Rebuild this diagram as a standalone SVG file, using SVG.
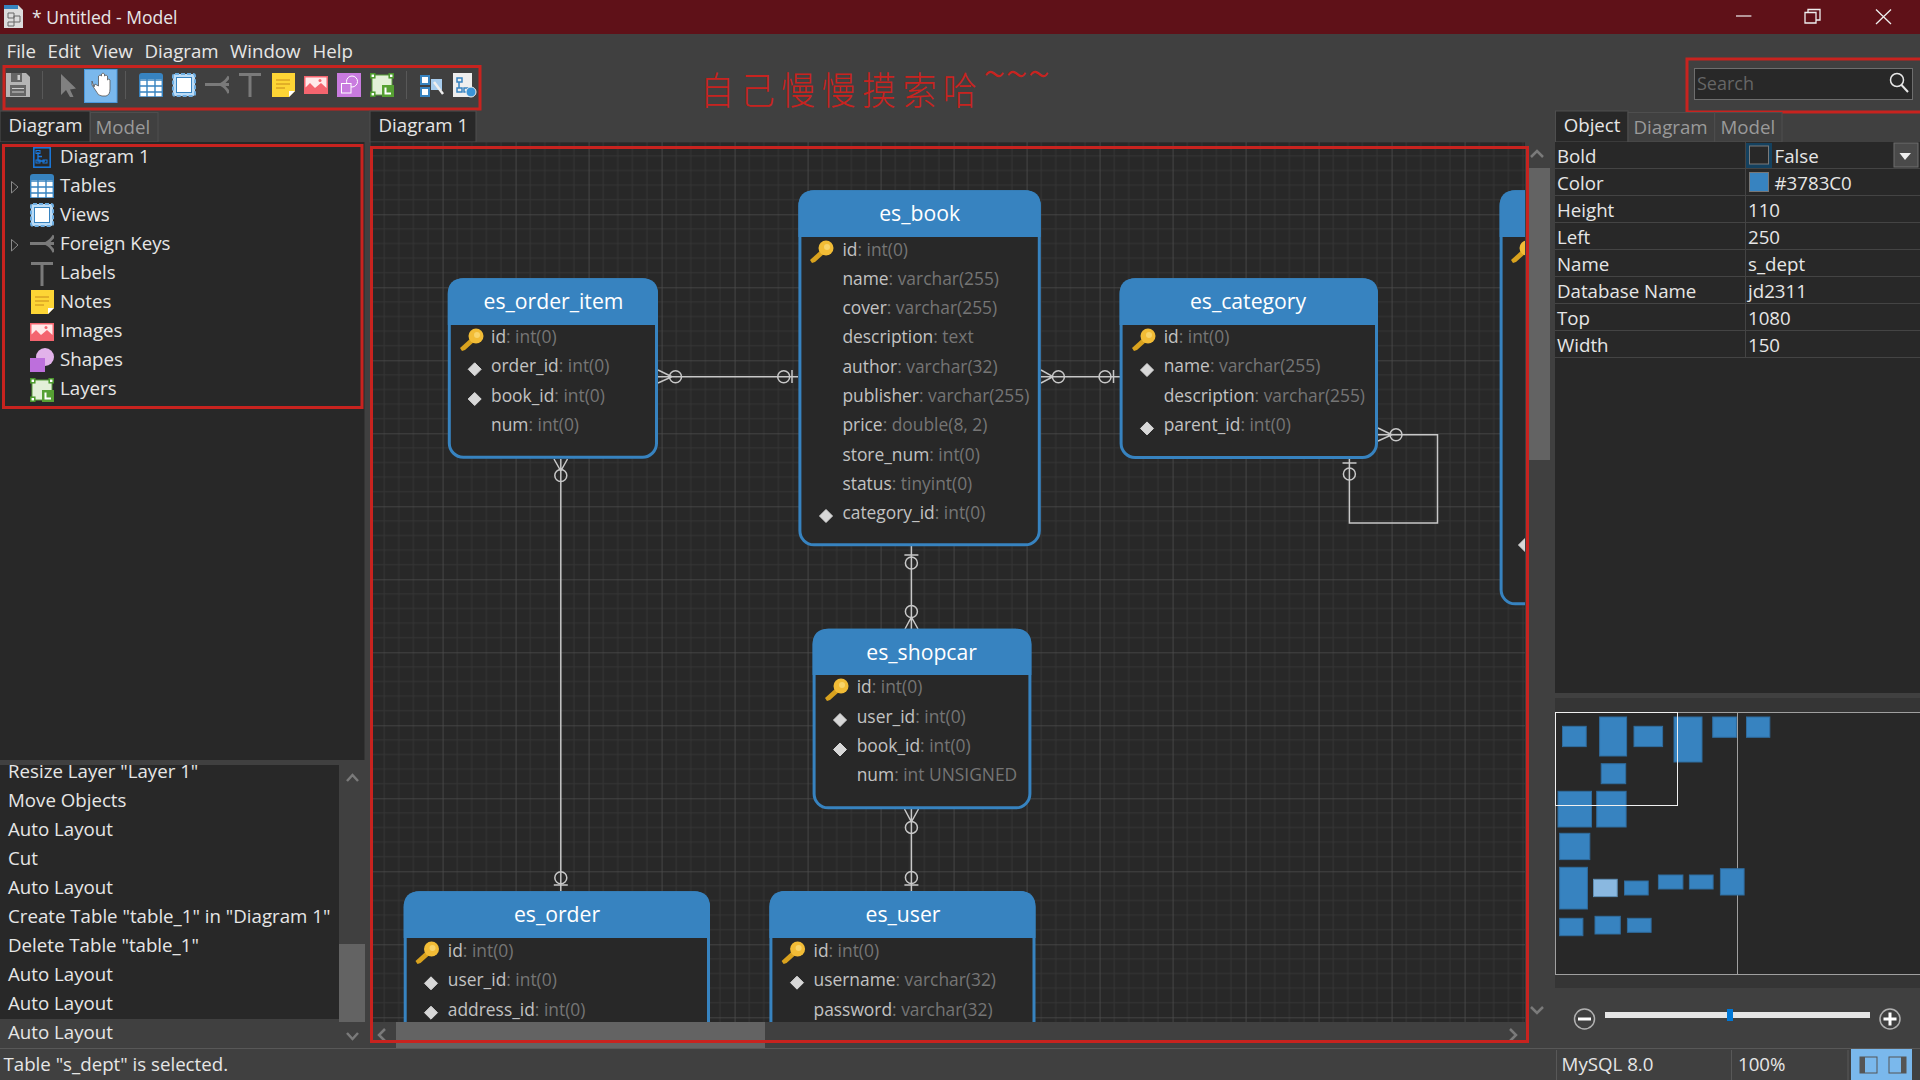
<svg xmlns="http://www.w3.org/2000/svg" width="1920" height="1080" viewBox="0 0 1920 1080">
<style>
text{font-family:"Open Sans","Noto Sans","Liberation Sans",sans-serif;font-size:18.7px;fill:#e6e6e6}
.dim{fill:#9a9a9a}
.red{fill:none;stroke:#c8231f;stroke-width:3}
.row{font-size:17.4px;fill:#c2c2c2}
.row tspan{fill:#757575}
.ttl{font-size:21.2px;font-weight:500;fill:#fff;text-anchor:middle}
.hdr{fill:#3783c0}
.bod{fill:#282828;stroke:#3783c0;stroke-width:3}
.cn{fill:none;stroke:#c8c8c8;stroke-width:1.5}
.cc{fill:none;stroke:#c8c8c8;stroke-width:1.5}
.sep{stroke:#585858;stroke-width:1}
.ln{stroke:#444;stroke-width:1}
.arw{fill:none;stroke:#7a7a7a;stroke-width:2.5}
.mm{fill:#3783c0;stroke:#2f6c9e;stroke-width:1}
.tab{fill:#282828;stroke:#4e4e4e;stroke-width:1}
.tab2{fill:#404040;stroke:#4e4e4e;stroke-width:1}
</style>
<defs>
<pattern id="grid" patternUnits="userSpaceOnUse" x="369.6" y="141.3" width="73" height="73">
<rect width="73" height="73" fill="#282828"/>
<path d="M14.6 0V73M29.2 0V73M43.8 0V73M58.4 0V73M0 14.6H73M0 29.2H73M0 43.8H73M0 58.4H73" stroke="#353535" stroke-width="1" fill="none"/>
<path d="M0 0V73M0 0H73" stroke="#4c4c4c" stroke-width="1.6" fill="none"/>
</pattern>
<clipPath id="cv"><rect x="370" y="142" width="1155" height="880"/></clipPath>
<symbol id="key" viewBox="0 0 24 24" overflow="visible">
<path d="M2 23L0 20L11 10L15 13L5 22Z" fill="#d9a21e"/><circle cx="16" cy="8" r="7.5" fill="#f2bc36"/><circle cx="17" cy="7" r="3" fill="#f9d469"/>
</symbol>
<symbol id="i-table" viewBox="0 0 24 24">
<path d="M0 7V3Q0 0 3 0H21Q24 0 24 3V7Z" fill="#3783c0"/><rect y="6" width="24" height="18" fill="#fff"/>
<path d="M0 7H24M0 13H24M0 19H24M0 24H24M.7 6V24M8 6V24M16 6V24M23.3 6V24" stroke="#3783c0" stroke-width="1.4"/>
</symbol>
<symbol id="i-view" viewBox="0 0 24 24">
<rect x="1" y="1" width="22" height="22" rx="2" fill="#bcdcf6" stroke="#6eaee2" stroke-width="2" stroke-dasharray="4 2"/><rect x="4.5" y="4.5" width="15" height="15" fill="#fff" stroke="#3783c0"/>
</symbol>
<symbol id="i-fk" viewBox="0 0 24 24">
<path d="M0 11.5H24" stroke="#7a7a7a" stroke-width="3"/><path d="M24 3.500Q21 9 15.500 11.500Q21 14 24 20" fill="none" stroke="#7a7a7a" stroke-width="3"/>
</symbol>
<symbol id="i-t" viewBox="0 0 24 24"><path d="M1 1.500H23M12 1.500V24" stroke="#7a7a7a" stroke-width="3" fill="none"/></symbol>
<symbol id="i-note" viewBox="0 0 24 24">
<path d="M1 0H24V18L18 24H1Z" fill="#fdd535"/><path d="M18 24V18H24Z" fill="#fff"/><path d="M5 7H19M5 11H19M5 15H14" stroke="#c88a1a" stroke-width="1"/>
</symbol>
<symbol id="i-img" viewBox="0 0 24 24">
<rect y="3" width="24" height="18" fill="#f4656f"/><path d="M1.500 4.500H22.500V15L17 10L11 15L6 10L1.500 14.500Z" fill="#ffe9e9"/><circle cx="16" cy="7.500" r="1.500" fill="#f4656f"/>
</symbol>
<symbol id="i-shape" viewBox="0 0 24 24">
<rect width="24" height="24" fill="#c97bdf"/><circle cx="15" cy="8.500" r="5.500" fill="none" stroke="#fff"/><rect x="4.500" y="10.500" width="9.500" height="9.500" fill="#c97bdf" stroke="#fff"/>
</symbol>
<symbol id="i-shape2" viewBox="0 0 24 24">
<circle cx="15" cy="9" r="9" fill="#e2b2ea"/><rect y="10" width="15" height="14" fill="#bd6fdc"/>
</symbol>
<symbol id="i-layer" viewBox="0 0 24 24">
<rect x="2" y="2" width="20" height="20" fill="#e3f0d8" stroke="#5aa03c" stroke-width="1"/><rect x="12" y="12" width="12" height="12" fill="#56a033"/><path d="M15.500 14.500V20.500H21" stroke="#fff" stroke-width="2" fill="none"/>
<g fill="#fff" stroke="#4b9a2b" stroke-width="1.500"><rect x=".8" y=".8" width="4" height="4"/><rect x="19.200" y=".8" width="4" height="4"/><rect x=".8" y="19.200" width="4" height="4"/></g>
</symbol>
<symbol id="i-dg" viewBox="0 0 18 21">
<rect x=".8" y=".8" width="16.400" height="19.400" fill="#282828" stroke="#1a7ae0" stroke-width="1.500"/><path d="M5 5V14H12M5 9.500H9" stroke="#1a7ae0" stroke-width="1.300" fill="none"/><rect x="3" y="3.500" width="4" height="3" fill="none" stroke="#1a7ae0"/><rect x="3" y="13" width="4" height="3" fill="none" stroke="#1a7ae0"/><rect x="10" y="13" width="4" height="3" fill="none" stroke="#1a7ae0"/>
</symbol>
<path id="dia" d="M0 -6.500L6.500 0L0 6.500L-6.500 0Z" fill="#d8d8d8" stroke="#d8d8d8" stroke-linejoin="round"/>
</defs>

<rect width="1920" height="1080" fill="#404040"/>

<g id="titlebar">
<rect width="1920" height="34" fill="#5f1118"/>
<path d="M4 5H18L23 10V28H4Z" fill="#dcdcdc"/><rect x="4" y="5" width="14" height="4" fill="#3783c0"/><path d="M8 13H14V18H8ZM14 16H20V22H14ZM8 22H14V26H8Z" fill="none" stroke="#666"/>
<text x="32" y="24" style="font-size:17.5px">* Untitled - Model</text>
<path d="M1736 16H1751.400" stroke="#eee" stroke-width="1.200"/>
<path d="M1805 12.500H1816V23H1805ZM1808 12V9.500H1820V20H1816.500" fill="none" stroke="#eee" stroke-width="1.300"/>
<path d="M1876 9.500L1891 24M1891 9.500L1876 24" stroke="#eee" stroke-width="1.300"/>
</g>

<g id="menu">
<text x="6.500" y="58">File</text><text x="47.500" y="58">Edit</text><text x="92" y="58">View</text><text x="144.500" y="58">Diagram</text><text x="230" y="58">Window</text><text x="312.500" y="58">Help</text>
</g>

<g id="toolbar">
<path d="M6 73H26L30 77V97H6Z" fill="#b5b5b5"/><rect x="11" y="73" width="11" height="9" fill="#666"/><rect x="17.500" y="75" width="2.500" height="5" fill="#ccc"/><path d="M10 85H26V96H10Z" fill="#666"/><path d="M12 88.500H24M12 92H24" stroke="#ccc"/>
<path d="M42.500 71V99M125.500 71V99M406.500 71V99" class="sep"/>
<path d="M61 74L76 88.500L70 89.500L73.500 97L70 97L66 90L61 95Z" fill="#808080"/>
<rect x="84.500" y="69.500" width="32.500" height="33" fill="#7ab8ec" stroke="#4a9ae0"/>
<path d="M94 87L92 81V85L96 91Q98 96 102 96H106Q110 95 110 89V80Q109 78 107.500 80V76Q106 74 104.500 76V74Q103 72 101.500 74V76Q100 74 98.500 76V86L95 84Z" fill="#fff" stroke="#555" stroke-width=".8"/>
<use href="#i-table" x="139" y="73" width="24" height="24"/>
<use href="#i-view" x="172" y="73" width="24" height="24"/>
<use href="#i-fk" x="205" y="73" width="24" height="24"/>
<use href="#i-t" x="238" y="73" width="24" height="24"/>
<use href="#i-note" x="271" y="73" width="24" height="24"/>
<use href="#i-img" x="304" y="73" width="24" height="24"/>
<use href="#i-shape" x="337" y="73" width="24" height="24"/>
<use href="#i-layer" x="370" y="73" width="24" height="24"/>
<path d="M421 76H429V84H421ZM421 88H429V96H421Z" fill="#fff" stroke="#3783c0" stroke-width="2"/><rect x="431" y="79" width="11" height="11" fill="#a8cdee"/><path d="M434 82L443 94" stroke="#eee" stroke-width="2.500"/>
<rect x="453" y="73" width="19" height="24" fill="#eee"/><path d="M457 78H462V82H457ZM457 88H462V92H457ZM464 88H469V92H464ZM459 82V88" fill="none" stroke="#3783c0" stroke-width="1.500"/><circle cx="471" cy="92" r="5" fill="#3a95d8" stroke="#eee"/>
<rect class="red" x="4" y="66.500" width="476" height="42.500"/>
</g>

<g id="note-text"><text transform="translate(700 104) scale(.9 1)" style="font-family:'Noto Sans CJK SC','Noto Sans',sans-serif;font-size:38px;letter-spacing:7px;fill:#c8231f;font-weight:300">自己慢慢摸索哈<tspan dy="-13" style="font-size:46px;letter-spacing:0">~~~</tspan></text></g>

<g id="search">
<rect x="1694.500" y="68.500" width="218" height="31" fill="#282828" stroke="#6e6e6e"/>
<text x="1697" y="90" style="fill:#666;font-size:18px">Search</text>
<circle cx="1897" cy="80" r="6.500" fill="none" stroke="#e8e8e8" stroke-width="1.500"/><path d="M1901.500 85L1908 92" stroke="#e8e8e8" stroke-width="2"/>
<rect class="red" x="1687" y="59" width="240" height="53"/>
</g>

<g id="left-tabs">
<rect class="tab" x="0" y="111" width="90" height="31"/><text x="8.500" y="131.500">Diagram</text>
<rect class="tab2" x="90.500" y="112.500" width="67.500" height="29.500"/><text x="95.500" y="134" class="dim">Model</text>
</g>
<g id="tree">
<rect x="0" y="142" width="364.500" height="618" fill="#282828"/>
<use href="#i-dg" x="33" y="147" width="18" height="21"/><text x="60" y="163">Diagram 1</text>
<path d="M11.500 181.500V193L18 187ZM11.500 239.500V251L18 245Z" fill="none" stroke="#8a8a8a"/>
<use href="#i-table" x="30" y="174" width="24" height="24"/><text x="60" y="192">Tables</text>
<use href="#i-view" x="30" y="203" width="24" height="24"/><text x="60" y="221">Views</text>
<use href="#i-fk" x="30" y="232" width="24" height="24"/><text x="60" y="250">Foreign Keys</text>
<use href="#i-t" x="30" y="262" width="24" height="24"/><text x="60" y="279">Labels</text>
<use href="#i-note" x="30" y="290" width="24" height="24"/><text x="60" y="308">Notes</text>
<use href="#i-img" x="30" y="320" width="24" height="24"/><text x="60" y="337">Images</text>
<use href="#i-shape2" x="30" y="348" width="24" height="24"/><text x="60" y="366">Shapes</text>
<use href="#i-layer" x="30" y="378" width="24" height="24"/><text x="60" y="395">Layers</text>
<rect class="red" x="3.500" y="145.500" width="358.500" height="262"/>
</g>

<g id="history">
<rect x="0" y="765" width="339" height="283" fill="#282828"/>
<rect x="0" y="1019" width="339" height="29" fill="#404040"/>
<text x="8" y="778">Resize Layer "Layer 1"</text>
<text x="8" y="807">Move Objects</text>
<text x="8" y="836">Auto Layout</text>
<text x="8" y="865">Cut</text>
<text x="8" y="894">Auto Layout</text>
<text x="8" y="923">Create Table "table_1" in "Diagram 1"</text>
<text x="8" y="952">Delete Table "table_1"</text>
<text x="8" y="981">Auto Layout</text>
<text x="8" y="1010">Auto Layout</text>
<text x="8" y="1039">Auto Layout</text>
<rect x="339" y="944" width="26" height="78" fill="#636363"/>
<path class="arw" d="M347 781L352.500 775L358 781M347 1033L352.500 1039L358 1033"/>
</g>

<g id="canvas">
<rect class="tab" x="370" y="111" width="106" height="31"/><text x="378.500" y="131.500">Diagram 1</text>
<rect x="370" y="142" width="1155" height="880" fill="url(#grid)"/>
<rect x="1527" y="168" width="23" height="292" fill="#636363"/>
<rect x="396" y="1022" width="369" height="26" fill="#636363"/>
<path class="arw" d="M1531 157L1537 151L1543 157M1531 1007L1537 1013L1543 1007M385 1029L379 1035L385 1041M1510 1029L1516 1035L1510 1041"/>
</g>

<g id="connectors" clip-path="url(#cv)">
<path class="cn" d="M658 370L672 376.700L658 383M658 376.700H798M792 370V383"/><circle class="cc" cx="675.500" cy="376.700" r="6"/><circle class="cc" cx="783.700" cy="376.700" r="6"/>
<path class="cn" d="M1041 370L1053 376.700L1041 383M1041 376.700H1120M1113.500 370V383"/><circle class="cc" cx="1058.400" cy="376.700" r="6"/><circle class="cc" cx="1105" cy="376.700" r="6"/>
<path class="cn" d="M1378 428L1392 434.700L1378 441M1378 434.700H1437.500V522.900H1349.400V458M1342.500 463H1356.500"/><circle class="cc" cx="1396" cy="434.700" r="6"/><circle class="cc" cx="1349.400" cy="474" r="6"/>
<path class="cn" d="M554 459L560.800 471L567.500 459M560.800 459V891M553.800 885H567.800"/><circle class="cc" cx="560.800" cy="475.500" r="6"/><circle class="cc" cx="560.800" cy="877.700" r="6"/>
<path class="cn" d="M911.400 546V629M904.400 555H918.400M905 629L911.400 617L918 629"/><circle class="cc" cx="911.400" cy="563" r="6"/><circle class="cc" cx="911.400" cy="611.500" r="6"/>
<path class="cn" d="M911.400 809V891M904.400 885H918.400M904.500 809L911.400 822L918.500 809"/><circle class="cc" cx="911.400" cy="827.400" r="6"/><circle class="cc" cx="911.400" cy="877.500" r="6"/>
</g>

<g clip-path="url(#cv)">
<g id="es_order_item">
<rect class="bod" x="449.300" y="279.800" width="207.200" height="177.400" rx="14"/>
<path class="hdr" d="M447.800 325V294.300Q447.800 278.300 463.800 278.300H642Q658 278.300 658 294.300V325Z"/>
<text class="ttl" x="553.500" y="309">es_order_item</text>
<use href="#key" x="460" y="328" width="24" height="24"/>
<use href="#dia" x="474.700" y="369.300"/><use href="#dia" x="474.700" y="399"/>
<text class="row" x="491" y="343">id<tspan>: int(0)</tspan></text>
<text class="row" x="491" y="372">order_id<tspan>: int(0)</tspan></text>
<text class="row" x="491" y="402">book_id<tspan>: int(0)</tspan></text>
<text class="row" x="491" y="431">num<tspan>: int(0)</tspan></text>
</g>
<g id="es_book">
<rect class="bod" x="799.900" y="191.800" width="239.400" height="353" rx="14"/>
<path class="hdr" d="M798.400 237V206.300Q798.400 190.300 814.400 190.300H1024.800Q1040.800 190.300 1040.800 206.300V237Z"/>
<text class="ttl" x="919.600" y="221">es_book</text>
<use href="#key" x="810" y="240" width="24" height="24"/>
<use href="#dia" x="826" y="516"/>
<text class="row" x="842.400" y="255.500">id<tspan>: int(0)</tspan></text>
<text class="row" x="842.400" y="284.800">name<tspan>: varchar(255)</tspan></text>
<text class="row" x="842.400" y="314.100">cover<tspan>: varchar(255)</tspan></text>
<text class="row" x="842.400" y="343.400">description<tspan>: text</tspan></text>
<text class="row" x="842.400" y="372.700">author<tspan>: varchar(32)</tspan></text>
<text class="row" x="842.400" y="402">publisher<tspan>: varchar(255)</tspan></text>
<text class="row" x="842.400" y="431.300">price<tspan>: double(8, 2)</tspan></text>
<text class="row" x="842.400" y="460.600">store_num<tspan>: int(0)</tspan></text>
<text class="row" x="842.400" y="489.900">status<tspan>: tinyint(0)</tspan></text>
<text class="row" x="842.400" y="519">category_id<tspan>: int(0)</tspan></text>
</g>
<g id="es_category">
<rect class="bod" x="1121.100" y="279.800" width="255.400" height="177.700" rx="14"/>
<path class="hdr" d="M1119.600 325V294.300Q1119.600 278.300 1135.600 278.300H1362Q1378 278.300 1378 294.300V325Z"/>
<text class="ttl" x="1248" y="309">es_category</text>
<use href="#key" x="1132" y="328" width="24" height="24"/>
<use href="#dia" x="1147" y="370"/><use href="#dia" x="1147" y="428.400"/>
<text class="row" x="1163.700" y="343">id<tspan>: int(0)</tspan></text>
<text class="row" x="1163.700" y="372">name<tspan>: varchar(255)</tspan></text>
<text class="row" x="1163.700" y="402">description<tspan>: varchar(255)</tspan></text>
<text class="row" x="1163.700" y="431">parent_id<tspan>: int(0)</tspan></text>
</g>
<g id="partial-table">
<rect class="bod" x="1501.100" y="191.800" width="120" height="412" rx="14"/>
<path class="hdr" d="M1499.600 237V206.300Q1499.600 190.300 1515.600 190.300H1640V237Z"/>
<use href="#key" x="1511" y="240" width="24" height="24"/>
<use href="#dia" x="1525" y="545"/>
</g>
<g id="es_shopcar">
<rect class="bod" x="814.100" y="630.300" width="215.800" height="177.500" rx="14"/>
<path class="hdr" d="M812.600 675V644.800Q812.600 628.800 828.600 628.800H1015.400Q1031.400 628.800 1031.400 644.800V675Z"/>
<text class="ttl" x="921.600" y="659.500">es_shopcar</text>
<use href="#key" x="825" y="678" width="24" height="24"/>
<use href="#dia" x="840" y="720"/><use href="#dia" x="840" y="749.500"/>
<text class="row" x="856.700" y="693.400">id<tspan>: int(0)</tspan></text>
<text class="row" x="856.700" y="722.500">user_id<tspan>: int(0)</tspan></text>
<text class="row" x="856.700" y="752">book_id<tspan>: int(0)</tspan></text>
<text class="row" x="856.700" y="781">num<tspan>: int UNSIGNED</tspan></text>
</g>
<g id="es_user">
<rect class="bod" x="770.900" y="892.500" width="263.100" height="200" rx="14"/>
<path class="hdr" d="M769.400 938V907Q769.400 891 785.400 891H1019.500Q1035.500 891 1035.500 907V938Z"/>
<text class="ttl" x="903" y="922">es_user</text>
<use href="#key" x="781.600" y="941" width="24" height="24"/>
<use href="#dia" x="797" y="982.700"/>
<text class="row" x="813.500" y="957">id<tspan>: int(0)</tspan></text>
<text class="row" x="813.500" y="986">username<tspan>: varchar(32)</tspan></text>
<text class="row" x="813.500" y="1015.500">password<tspan>: varchar(32)</tspan></text>
</g>
<g id="es_order">
<rect class="bod" x="405.200" y="892.800" width="303.300" height="200" rx="14"/>
<path class="hdr" d="M403.700 938V907.300Q403.700 891.300 419.700 891.300H694Q710 891.300 710 907.300V938Z"/>
<text class="ttl" x="557" y="922">es_order</text>
<use href="#key" x="415.500" y="941" width="24" height="24"/>
<use href="#dia" x="431" y="983.300"/><use href="#dia" x="431" y="1012.700"/>
<text class="row" x="447.800" y="956.500">id<tspan>: int(0)</tspan></text>
<text class="row" x="447.800" y="986">user_id<tspan>: int(0)</tspan></text>
<text class="row" x="447.800" y="1015.500">address_id<tspan>: int(0)</tspan></text>
</g>
</g>
<rect class="red" x="371.500" y="147.500" width="1156" height="894"/>

<g id="right-tabs">
<rect class="tab" x="1555.500" y="111" width="72.500" height="31"/><text x="1563.700" y="131.500">Object</text>
<rect class="tab2" x="1628" y="112.500" width="86.700" height="29.500"/><text x="1633.500" y="134" class="dim">Diagram</text>
<rect class="tab2" x="1714.700" y="112.500" width="67.300" height="29.500"/><text x="1720.500" y="134" class="dim">Model</text>
</g>
<g id="properties">
<rect x="1555" y="142" width="365" height="551" fill="#282828"/>
<path class="ln" d="M1555 168.500H1920M1555 195.500H1920M1555 222.500H1920M1555 249.500H1920M1555 276.500H1920M1555 303.500H1920M1555 330.500H1920M1555 357.500H1920M1745.500 142V357.500"/>
<rect x="1746" y="143" width="26" height="25" fill="#14415f"/>
<rect x="1749.500" y="146" width="19" height="18" fill="#282828" stroke="#7a7a7a"/>
<rect x="1894" y="143" width="24" height="24" fill="#4a4a4a" stroke="#6e6e6e"/><path d="M1899.500 153H1911L1905 160Z" fill="#eee"/>
<rect x="1749.500" y="172.500" width="19" height="19" fill="#3783c0" stroke="#777"/>
<text x="1557" y="163">Bold</text><text x="1774.500" y="163">False</text>
<text x="1557" y="190">Color</text><text x="1774.500" y="190">#3783C0</text>
<text x="1557" y="217">Height</text><text x="1748" y="217">110</text>
<text x="1557" y="244">Left</text><text x="1748" y="244">250</text>
<text x="1557" y="271">Name</text><text x="1748" y="271">s_dept</text>
<text x="1557" y="298">Database Name</text><text x="1748" y="298">jd2311</text>
<text x="1557" y="325">Top</text><text x="1748" y="325">1080</text>
<text x="1557" y="352">Width</text><text x="1748" y="352">150</text>
</g>
<g id="minimap">
<rect x="1555" y="698" width="365" height="290" fill="#353535"/>
<rect x="1555.500" y="712.500" width="365" height="262" fill="#282828" stroke="#a0a0a0"/>
<path d="M1737.500 712V974" stroke="#a0a0a0"/>
<rect class="mm" x="1562.500" y="726.300" width="23.700" height="20.300"/>
<rect class="mm" x="1599.600" y="717" width="27" height="39"/>
<rect class="mm" x="1634" y="726.300" width="28.600" height="20.300"/>
<rect class="mm" x="1674" y="717" width="28" height="45"/>
<rect class="mm" x="1712.700" y="717" width="23.700" height="20.300"/>
<rect class="mm" x="1746.500" y="717" width="23.300" height="20.300"/>
<rect class="mm" x="1601.200" y="763.700" width="24.500" height="20"/>
<rect class="mm" x="1558" y="791.300" width="33.500" height="35.700"/>
<rect class="mm" x="1596.700" y="791.300" width="29.400" height="35.700"/>
<rect class="mm" x="1559.600" y="833.300" width="30.200" height="26.300"/>
<rect class="mm" x="1559.600" y="867.300" width="27.800" height="41.700"/>
<rect x="1593.500" y="879.300" width="23.700" height="17.300" fill="#8ab8e0" stroke="#5f8fb5"/>
<rect class="mm" x="1624.500" y="881" width="23.700" height="14"/>
<rect class="mm" x="1658.400" y="875" width="24.500" height="14"/>
<rect class="mm" x="1689.400" y="875" width="23.700" height="14"/>
<rect class="mm" x="1720.400" y="868.700" width="23.700" height="26.300"/>
<rect class="mm" x="1559.600" y="918.300" width="23.300" height="17.400"/>
<rect class="mm" x="1595" y="916.300" width="25.300" height="17.700"/>
<rect class="mm" x="1627.400" y="918.300" width="23.700" height="14"/>
<rect x="1555.500" y="712.500" width="122" height="93" fill="none" stroke="#f0f0f0"/>
</g>
<g id="zoom">
<rect x="1605" y="1012" width="265" height="6" fill="#e6e6e6"/><rect x="1727" y="1009" width="6" height="12" fill="#0078d7"/>
<circle cx="1584.500" cy="1019" r="10" fill="none" stroke="#b0b0b0" stroke-width="1.500"/><path d="M1578 1019H1591" stroke="#fff" stroke-width="3"/>
<circle cx="1890" cy="1019" r="10" fill="none" stroke="#b0b0b0" stroke-width="1.500"/><path d="M1883.500 1019H1896.500M1890 1012.500V1025.500" stroke="#fff" stroke-width="3"/>
</g>
<g id="statusbar">
<path class="sep" d="M0 1048.500H1920M1556.500 1050V1080M1731.500 1050V1080M1848 1050V1080"/>
<text x="3.500" y="1071">Table "s_dept" is selected.</text>
<text x="1561.600" y="1071">MySQL 8.0</text>
<text x="1738" y="1071">100%</text>
<rect x="1851" y="1049" width="61" height="31" fill="#7ab8ec"/>
<rect x="1860" y="1057" width="17" height="16" fill="none" stroke="#555"/><rect x="1860" y="1057" width="5" height="16" fill="#555"/>
<rect x="1889" y="1057" width="17" height="16" fill="none" stroke="#555"/><rect x="1901" y="1057" width="5" height="16" fill="#555"/>
</g>
</svg>
